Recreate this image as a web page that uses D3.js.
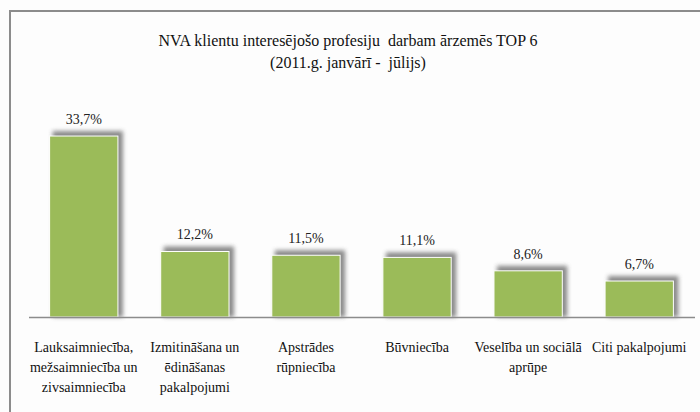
<!DOCTYPE html>
<html>
<head>
<meta charset="utf-8">
<script src="https://cdn.jsdelivr.net/npm/d3@7"></script>
<style>
  body { margin: 0; background: #fff; }
  svg { display: block; }
  svg text { font-family: "Liberation Serif", "Times New Roman", serif; }
</style>
</head>
<body>
<div class="canvas"></div>
<script>
// data
const categories = [
  ["Lauksaimniecība,", "mežsaimniecība un", "zivsaimniecība"],
  ["Izmitināšana un", "ēdināšanas", "pakalpojumi"],
  ["Apstrādes", "rūpniecība"],
  ["Būvniecība"],
  ["Veselība un sociālā", "aprūpe"],
  ["Citi pakalpojumi"]
];
const values = [33.7, 12.2, 11.5, 11.1, 8.6, 6.7];
const valueLabels = ["33,7%", "12,2%", "11,5%", "11,1%", "8,6%", "6,7%"];
const titleLines = [
  "NVA klientu interesējošo profesiju  darbam ārzemēs TOP 6",
  "(2011.g. janvārī -  jūlijs)"
];

const width = 700;
const height = 412;
const baseY = 317;
const barColor = "#9bbb59";

const svg = d3.select(".canvas").append("svg")
  .attr("width", width)
  .attr("height", height);

// background + frame
svg.append("rect").attr("width", width).attr("height", height).attr("fill", "#fdfdfd");
svg.append("path")
  .attr("d", "M10," + height + " L10,11 L" + width + ",11")
  .attr("fill", "none")
  .attr("stroke", "#8c8c8c")
  .attr("stroke-width", 2);

const defs = svg.append("defs");
defs.append("filter").attr("id", "blur")
  .attr("x", "-20%").attr("y", "-20%").attr("width", "140%").attr("height", "140%")
  .append("feGaussianBlur").attr("stdDeviation", 2);

// scales
const x = d3.scaleBand()
  .domain(d3.range(values.length))
  .range([28.5, 694.5])
  .paddingInner(0.385)
  .paddingOuter(0.19);

const y = d3.scaleLinear()
  .domain([0, 40])
  .range([baseY, baseY - 40 * 5.37]);

// title
svg.append("g").selectAll("text")
  .data(titleLines)
  .join("text")
  .attr("x", 348)
  .attr("y", (d, i) => 46 + i * 22)
  .attr("text-anchor", "middle")
  .attr("font-size", 16)
  .attr("fill", "#111")
  .style("white-space", "pre")
  .text(d => d);

// shadows
svg.append("g").selectAll("rect")
  .data(values)
  .join("rect")
  .attr("x", (d, i) => x(i) + 3)
  .attr("y", d => y(d) - 5)
  .attr("width", x.bandwidth() + 2)
  .attr("height", d => baseY - y(d) + 5)
  .attr("fill", "#6e6e6e")
  .attr("opacity", 0.8)
  .attr("filter", "url(#blur)");

// bars
svg.append("g").selectAll("rect")
  .data(values)
  .join("rect")
  .attr("x", (d, i) => x(i))
  .attr("y", d => y(d))
  .attr("width", x.bandwidth())
  .attr("height", d => baseY - y(d))
  .attr("fill", barColor)
  .attr("stroke", "#fff")
  .attr("stroke-width", 1);

// baseline
const axis = d3.axisBottom(x).tickSize(0).tickFormat("");
const axisG = svg.append("g").attr("transform", "translate(0," + baseY + ")").call(axis);
axisG.select(".domain").attr("stroke", "#8c8c8c").attr("stroke-width", 1.5);

// value labels
svg.append("g").selectAll("text")
  .data(values)
  .join("text")
  .attr("x", (d, i) => x(i) + x.bandwidth() / 2)
  .attr("y", d => y(d) - 12)
  .attr("text-anchor", "middle")
  .attr("font-size", 14)
  .attr("fill", "#222")
  .text((d, i) => valueLabels[i]);

// category labels
const cat = svg.append("g").selectAll("text")
  .data(categories)
  .join("text")
  .attr("text-anchor", "middle")
  .attr("font-size", 14)
  .attr("fill", "#111");

cat.selectAll("tspan")
  .data((d, i) => d.map(line => ({ line, i })))
  .join("tspan")
  .attr("x", d => x(d.i) + x.bandwidth() / 2)
  .attr("y", (d, j) => 352 + j * 20)
  .text(d => d.line);
</script>
</body>
</html>
